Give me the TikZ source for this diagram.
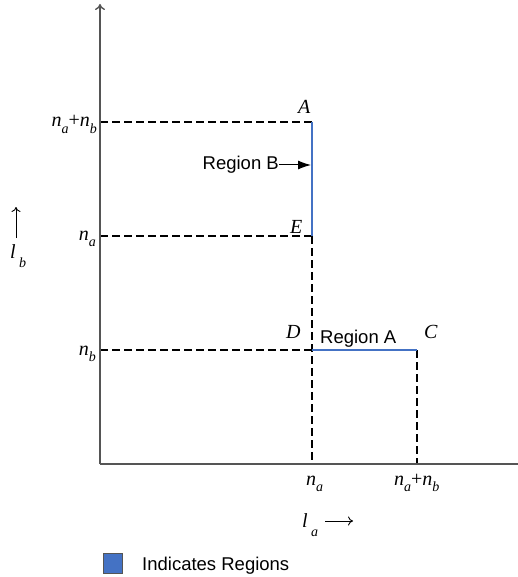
\documentclass[tikz,border=0pt]{standalone}
\usepackage{fontspec}
\setmainfont{Liberation Serif}
\newfontfamily\arialfont{Liberation Sans}
\usetikzlibrary{arrows.meta}
\definecolor{regblue}{RGB}{68,114,196}
\definecolor{axisgray}{RGB}{85,85,85}
\newcommand{\nsb}[1]{\textit{n}\raisebox{-6.5pt}{\fontsize{14}{14}\selectfont\textit{#1}}}
\newcommand{\lsb}[1]{\textit{l}\,\raisebox{-9pt}{\fontsize{14}{14}\selectfont\textit{#1}}}
\begin{document}
\begin{tikzpicture}[x=1pt,y=-1pt,
  axisline/.style={draw=axisgray,line width=1.4pt},
  guide/.style={draw=black,line width=2pt,dash pattern=on 8pt off 4pt},
  region/.style={draw=regblue,line width=2pt},
  serlbl/.style={inner sep=0pt,font=\fontsize{20}{22}\selectfont},
  sanslbl/.style={inner sep=0pt,font=\arialfont\fontsize{18.5}{20}\selectfont},
  ptr/.style={draw=black,line width=1pt,-{Latex[length=13pt,width=9pt]}},
  tarrow/.style={draw=black,line width=0.9pt,-{To[length=5pt,width=9pt]}}]
\useasboundingbox (0,0) rectangle (518,577);
% key coordinates
\coordinate (O) at (100,464);
\coordinate (ytop) at (100,4);
\coordinate (xend) at (518,464);
\coordinate (Ypab) at (100,122);
\coordinate (Ya) at (100,236);
\coordinate (Yb) at (100,350);
\coordinate (A) at (312,122);
\coordinate (E) at (312,236);
\coordinate (D) at (312,350);
\coordinate (C) at (417,350);
\coordinate (Xa) at (312,464);
\coordinate (Xab) at (417,464);
% guides
\draw[guide] (Ypab) -- (A);
\draw[guide] (Ya) -- (E);
\draw[guide] (Yb) -- (D);
\draw[guide] (E) -- (Xa);
\draw[guide] (C) -- (Xab);
% regions
\draw[region] (A) -- (E);
\draw[region] (D) -- (C);
% axes
\draw[axisline,-{To[length=6pt,width=10pt]}] (O) -- (ytop);
\draw[axisline] (O) -- (xend);
% point labels
\node[serlbl,anchor=base west] (lA) at (298,114) {\textit{A}};
\node[serlbl,anchor=base west] (lE) at (290,233) {\textit{E}};
\node[serlbl,anchor=base west] (lD) at (286,338) {\textit{D}};
\node[serlbl,anchor=base west] (lC) at (424,338) {\textit{C}};
% region texts
\node[sanslbl,anchor=base west] (rA) at (320,343) {Region A};
\node[sanslbl,anchor=base east] (rB) at (279,170) {Region B};
\coordinate (rBtip) at (311,165);
\draw[ptr] (rB.east |- rBtip) -- (rBtip);
% axis tick labels
\node[serlbl,anchor=base east] (tab) at (97,127) {\nsb{a}+\nsb{b}};
\node[serlbl,anchor=base east] (ta) at (96,240) {\nsb{a}};
\node[serlbl,anchor=base east] (tb) at (96,355) {\nsb{b}};
\node[serlbl,anchor=base west] (txa) at (306,485) {\nsb{a}};
\node[serlbl,anchor=base west] (txab) at (394,485) {\nsb{a}+\nsb{b}};
% axis names
\node[serlbl,anchor=base west] (la) at (302,527) {\lsb{a}};
\coordinate (laS) at (325,521);
\coordinate (laE) at (353,521);
\draw[tarrow] (laS) -- (laE);
\node[serlbl,anchor=base west] (lb) at (10,258) {\lsb{b}};
\coordinate (lbS) at (16,238);
\coordinate (lbE) at (16,207);
\draw[tarrow] (lbS) -- (lbE);
% legend
\node[draw=axisgray,line width=0.8pt,fill=regblue,minimum width=19pt,minimum height=20pt,inner sep=0pt,anchor=north west] (key) at (103,553) {};
\node[sanslbl,anchor=base west] (keytxt) at (142,570) {Indicates Regions};
\end{tikzpicture}
\end{document}
